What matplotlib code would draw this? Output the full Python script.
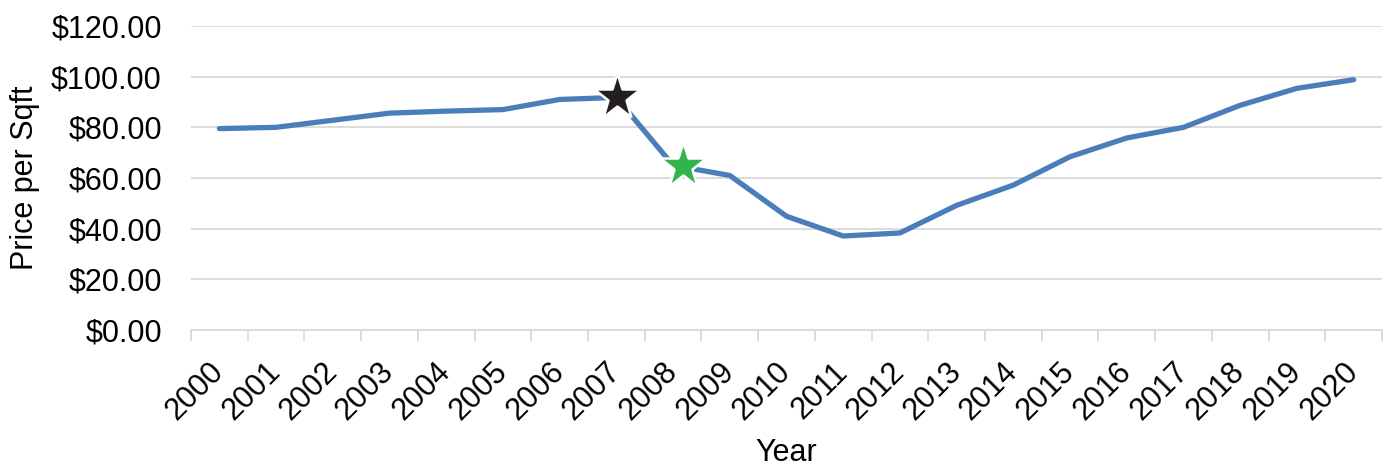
import matplotlib
matplotlib.use("Agg")
import matplotlib.pyplot as plt
from matplotlib.ticker import FixedLocator, FuncFormatter

plt.rcParams['font.family'] = ['Liberation Sans', 'DejaVu Sans']

# data
years = ['2000', '2001', '2002', '2003', '2004', '2005', '2006', '2007', '2008', '2009', '2010',
         '2011', '2012', '2013', '2014', '2015', '2016', '2017', '2018', '2019', '2020']
price = [79.5, 80.0, 82.8, 85.6, 86.4, 87.0, 91.0, 91.8, 65.0, 61.0, 44.9,
         37.1, 38.3, 49.2, 57.2, 68.4, 75.8, 80.0, 88.7, 95.4, 98.8]

# highlighted points (category position, value)
peak_x, peak_y = 7.02, 92.0
crash_x, crash_y = 8.18, 64.8

grid_c = '#D9D9D9'

fig = plt.figure(figsize=(13.92, 4.68), dpi=100)
ax = fig.add_axes([191 / 1392, 1 - 330 / 468, (1382 - 191) / 1392, 304 / 468])

xs = list(range(len(years)))
ax.plot(xs, price, color='#4A7EBB', lw=3.8, solid_capstyle='round', solid_joinstyle='round', zorder=3)

ax.plot([peak_x], [peak_y], marker='*', ms=35, color='#231F20', mec='white', mew=1.8, zorder=4)
ax.plot([crash_x], [crash_y], marker='*', ms=35, color='#33B44A', mec='white', mew=1.8, zorder=4)

ax.set_xlim(-0.5, len(years) - 0.5)
ax.set_ylim(0, 120)
ax.set_yticks(range(0, 121, 20))
ax.yaxis.set_major_formatter(FuncFormatter(lambda v, p: f"${v:,.2f}"))
ax.grid(axis='y', color=grid_c, lw=1.3, zorder=0)

ax.set_xticks(xs)
ax.set_xticklabels(years, rotation=45, ha='right', va='center', rotation_mode='anchor')
ax.xaxis.set_minor_locator(FixedLocator([i - 0.5 for i in range(len(years) + 1)]))
ax.tick_params(axis='x', which='major', length=0, pad=27, labelsize=22)
ax.tick_params(axis='x', which='minor', length=8, width=1.3, color=grid_c)
ax.tick_params(axis='y', length=0, pad=21, labelsize=22)

for s in ['top', 'right', 'left']:
    ax.spines[s].set_visible(False)
ax.spines['bottom'].set_color(grid_c)
ax.spines['bottom'].set_linewidth(1.3)

ax.set_xlabel('Year', fontsize=22)
ax.xaxis.set_label_coords(0.5, -0.355)
ax.set_ylabel('Price per Sqft', fontsize=22, labelpad=8)

fig.savefig('out.png', dpi=100)
